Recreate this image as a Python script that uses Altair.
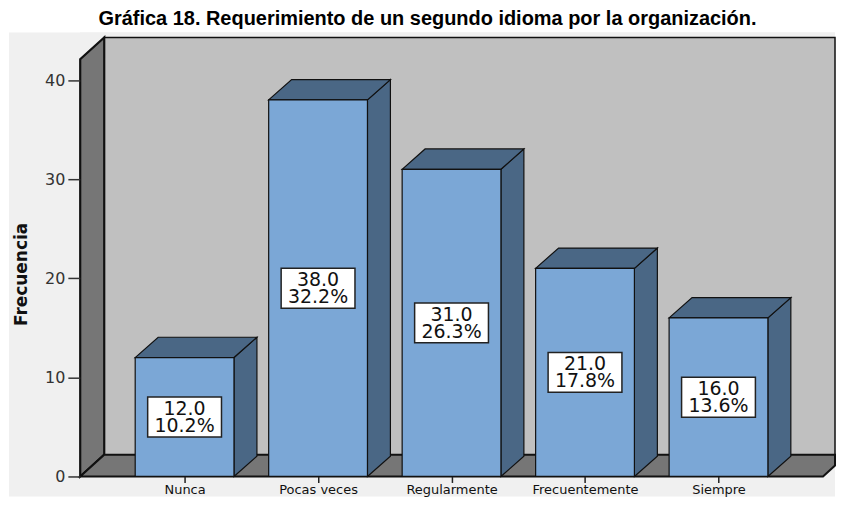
import json
import altair as alt
import pandas as pd

# ---- data ----
categorias = ["Nunca", "Pocas veces", "Regularmente", "Frecuentemente", "Siempre"]
frecuencia = [12, 38, 31, 21, 16]
porcentaje = [10.2, 32.2, 26.3, 17.8, 13.6]
y_ticks = [0, 10, 20, 30, 40]

titulo = "Gráfica 18. Requerimiento de un segundo idioma por la organización."
y_titulo = "Frecuencia"

# ---- layout / 3-D geometry ----
W, H = 757, 445
X0 = -0.7848
X1 = X0 + W / 133.8
Y_TOP = 44.8
PX_X = W / (X1 - X0)
PX_Y = H / Y_TOP

HALF = 0.37              # half width of a bar's front face
BDX, BDY = 0.172, 2.05   # bar depth offset
WDX, WDY = 0.18, 2.2     # wall depth offset
X_FRONT_L, X_FRONT_R = -0.782, 4.783
WALL_TOP = 42.1

FRONT = "#7ba7d6"
DARK = "#4a6785"
EDGE = "#111111"

xs = alt.Scale(domain=[X0, X1], nice=False, zero=False)
ys = alt.Scale(domain=[0, Y_TOP], nice=False, zero=False)

label_expr = json.dumps(categorias) + "[datum.value]"

x_axis = alt.Axis(values=[0, 1, 2, 3, 4], labelExpr=label_expr, grid=False, domain=False,
                  tickSize=6, tickColor="#222", tickWidth=1.5, title=None,
                  labelFont="DejaVu Sans", labelFontSize=13, labelColor="#111",
                  labelPadding=1, labelAngle=0, zindex=2)
y_axis = alt.Axis(values=y_ticks, grid=False, domain=False, tickSize=12,
                  tickColor="#333", tickWidth=1.5, labelFont="DejaVu Sans", labelFontSize=16,
                  labelColor="#333", labelPadding=3, title=y_titulo,
                  titleFont="DejaVu Sans", titleFontSize=17, titleY=242,
                  titleFontWeight="bold", titleColor="#111", titlePadding=14, zindex=2)


def X(field="x"):
    return alt.X(f"{field}:Q", scale=xs, axis=x_axis)


def Y(field="y"):
    return alt.Y(f"{field}:Q", scale=ys, axis=y_axis)


panel = pd.DataFrame([{"x": X0 - 71 / PX_X, "x2": X1, "y": -20 / PX_Y, "y2": Y_TOP}])
back_wall = pd.DataFrame([{"x": X_FRONT_L + WDX, "x2": X1, "y": WDY, "y2": WALL_TOP + WDY}])
left_wall = pd.DataFrame([
    {"x": X_FRONT_L, "y": 0, "y2": WALL_TOP},
    {"x": X_FRONT_L + WDX, "y": WDY, "y2": WALL_TOP + WDY},
])
y_cut = (X1 - X_FRONT_R) / WDX * WDY
floor = pd.DataFrame([
    {"x": X_FRONT_L, "y": 0, "y2": 0},
    {"x": X_FRONT_L + WDX, "y": 0, "y2": WDY},
    {"x": X_FRONT_R, "y": 0, "y2": WDY},
    {"x": X1, "y": y_cut, "y2": WDY},
])

rows_front, rows_top, rows_side, rows_lab = [], [], [], []
for i, (c, v, p) in enumerate(zip(categorias, frecuencia, porcentaje)):
    L, R = i - HALF, i + HALF
    rows_front.append({"c": c, "x": L, "x2": R, "y": 0, "y2": v})
    rows_top += [
        {"c": c, "x": L, "y": v, "y2": v},
        {"c": c, "x": L + BDX, "y": v, "y2": v + BDY},
        {"c": c, "x": R, "y": v, "y2": v + BDY},
        {"c": c, "x": R + BDX, "y": v + BDY, "y2": v + BDY},
    ]
    rows_side += [
        {"c": c, "x": R, "y": 0, "y2": v},
        {"c": c, "x": R + BDX, "y": BDY, "y2": v + BDY},
    ]
    rows_lab.append({"c": c, "x": i, "ym": v / 2, "x1": i - 37 / PX_X, "x2": i + 37 / PX_X,
                     "y1": v / 2 - 20 / PX_Y, "y2": v / 2 + 20 / PX_Y,
                     "t1": f"{v:.1f}", "t2": f"{p:.1f}%"})

front = pd.DataFrame(rows_front)
top = pd.DataFrame(rows_top)
side = pd.DataFrame(rows_side)
labs = pd.DataFrame(rows_lab)

l_panel = alt.Chart(panel).mark_rect(fill="#f0f0f0", clip=False).encode(
    x=X(), x2="x2", y=Y(), y2="y2")
l_back = alt.Chart(back_wall).mark_rect(fill="#c0c0c0", stroke=EDGE, strokeWidth=1.5).encode(
    x=X(), x2="x2", y=Y(), y2="y2")
l_left = alt.Chart(left_wall).mark_area(fill="#767676", stroke=EDGE, strokeWidth=2.2,
                                        orient="vertical").encode(x=X(), y=Y(), y2="y2")
l_floor = alt.Chart(floor).mark_area(fill="#767676", stroke=EDGE, strokeWidth=2,
                                     orient="vertical").encode(x=X(), y=Y(), y2="y2")
l_side = alt.Chart(side).mark_area(fill=DARK, stroke=EDGE, strokeWidth=1.2,
                                   orient="vertical").encode(x=X(), y=Y(), y2="y2", detail="c:N")
l_top = alt.Chart(top).mark_area(fill=DARK, stroke=EDGE, strokeWidth=1.2,
                                 orient="vertical").encode(x=X(), y=Y(), y2="y2", detail="c:N")
l_front = alt.Chart(front).mark_rect(fill=FRONT, stroke=EDGE, strokeWidth=1.2).encode(
    x=X(), x2="x2", y=Y(), y2="y2")
l_box = alt.Chart(labs).mark_rect(fill="white", stroke="#222", strokeWidth=1.5).encode(
    x=X("x1"), x2="x2", y=Y("y1"), y2="y2")
l_t1 = alt.Chart(labs).mark_text(font="DejaVu Sans", fontSize=19, color="#111", dy=-8,
                                 baseline="middle", align="center").encode(
    x=X(), y=Y("ym"), text="t1:N")
l_t2 = alt.Chart(labs).mark_text(font="DejaVu Sans", fontSize=19, color="#111", dy=9,
                                 baseline="middle", align="center").encode(
    x=X(), y=Y("ym"), text="t2:N")

chart = alt.layer(l_panel, l_back, l_left, l_floor, l_side, l_top, l_front, l_box, l_t1, l_t2).properties(
    width=W, height=H,
    padding={"left": 1, "top": 0, "right": 0, "bottom": 0},
    background="white",
    title=alt.TitleParams(titulo, font="Liberation Sans", fontSize=20, fontWeight="bold",
                          color="#000", anchor="middle", offset=4, dx=-30),
).configure_view(fill="#f0f0f0", stroke=None)

chart.save("out.html", embed_options={"renderer": "svg", "actions": False})
